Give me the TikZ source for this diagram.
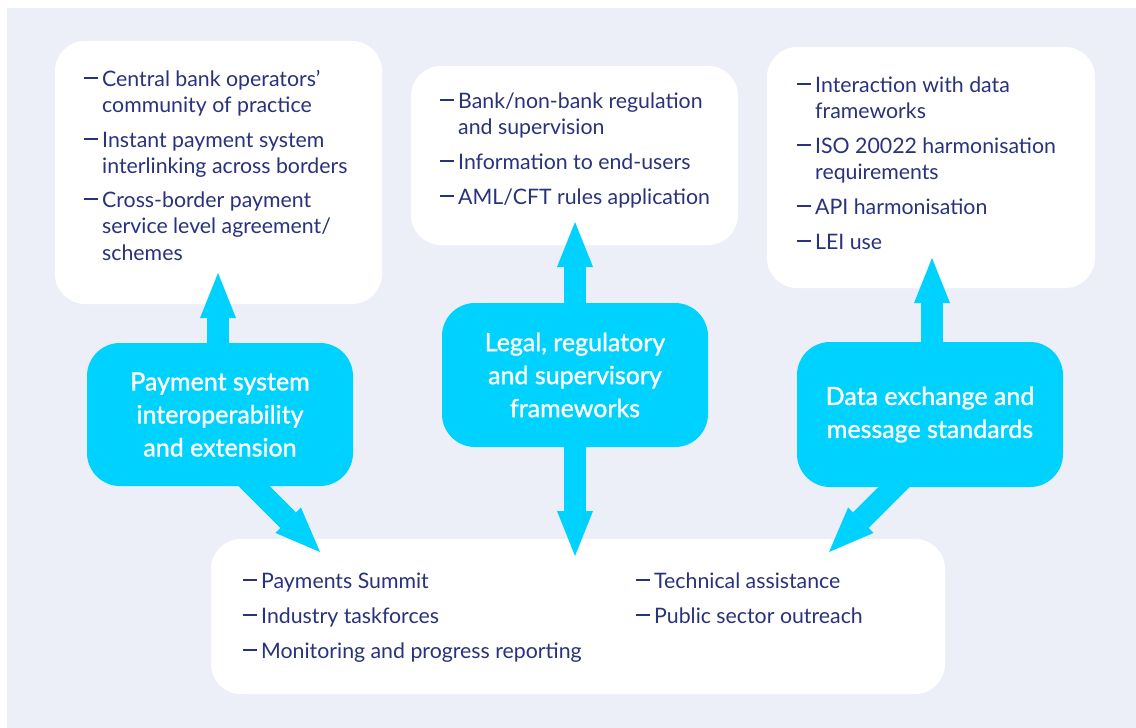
\documentclass[tikz,border=0pt]{standalone}
\usepackage{fontspec}
\setmainfont{Lato}
\newfontfamily\cyfont[FakeBold=1.2]{Lato}
\usetikzlibrary{arrows.meta}
\definecolor{bgc}{RGB}{236,239,247}
\definecolor{cy}{RGB}{0,210,255}
\definecolor{navy}{RGB}{40,50,125}
\newcommand\dsh{\rule[7.5pt]{13.5pt}{1.6pt}\hspace{4.5pt}}
\pgfdeclarelayer{back}
\pgfdeclarelayer{mid}
\pgfsetlayers{back,mid,main}
\begin{document}
\begin{tikzpicture}[x=1pt,y=-1pt,
 wbox/.style={fill=white, rounded corners=30pt, inner sep=0pt},
 cbox/.style={fill=cy, rounded corners=33pt, inner sep=0pt, text=white, font=\cyfont\fontsize{25}{33}\selectfont, align=center, minimum width=266pt},
 itm/.style={anchor=base west, inner sep=0pt, text=navy, font=\fontsize{21.3}{26}\selectfont},
 arr/.style={draw=cy, line width=22pt, -{Triangle[length=45pt,width=36pt,line width=0pt]}}]
\useasboundingbox (0,0) rectangle (1136,728);
\begin{pgfonlayer}{back}
\fill[bgc] (7,8) rectangle (1136,728);
\node[wbox, minimum width=327pt, minimum height=263pt] (A) at (218.5,172.5) {};
\node[wbox, minimum width=327pt, minimum height=179pt] (B) at (574.5,155.5) {};
\node[wbox, minimum width=328pt, minimum height=241pt] (C) at (931,167.5) {};
\node[wbox, minimum width=734pt, minimum height=155pt] (D) at (578,616.5) {};
\end{pgfonlayer}

\node[cbox, minimum height=143pt] (P1) at (220,414.5) {Payment system\\interoperability\\and extension};
\node[cbox, minimum height=144pt] (P2) at (575,375) {Legal, regulatory\\and supervisory\\frameworks};
\node[cbox, minimum height=145pt] (P3) at (930,414.5) {Data exchange and\\message standards};

\coordinate (t1) at (218,273);
\coordinate (t2u) at (575,222);
\coordinate (t2d) at (575,556);
\coordinate (t3) at (932,258);
\coordinate (s1) at (231,463);
\coordinate (d1) at (320,552);
\coordinate (s3) at (918,463);
\coordinate (d3) at (829,552);
\begin{pgfonlayer}{mid}
\draw[arr] (t1 |- P1.center) -- (t1);
\draw[arr] (t2u |- P2.center) -- (t2u);
\draw[arr] (t2d |- P2.center) -- (t2d);
\draw[arr] (t3 |- P3.center) -- (t3);
\draw[arr] (s1) -- (d1);
\draw[arr] (s3) -- (d3);
\end{pgfonlayer}

\node[itm] (a1) at (84,86) {\dsh Central bank operators’};
\node[itm] (a2) at (102,112) {community of practice};
\node[itm] (a3) at (84,147) {\dsh Instant payment system};
\node[itm] (a4) at (102,173) {interlinking across borders};
\node[itm] (a5) at (84,207) {\dsh Cross-border payment};
\node[itm] (a6) at (102,233) {service level agreement/};
\node[itm] (a7) at (102,260) {schemes};

\node[itm] (b1) at (440,108) {\dsh Bank/non-bank regulation};
\node[itm] (b2) at (458,134) {and supervision};
\node[itm] (b3) at (440,169) {\dsh Information to end-users};
\node[itm] (b4) at (440,204) {\dsh AML/CFT rules application};

\node[itm] (c1) at (797,92) {\dsh Interaction with data};
\node[itm] (c2) at (815,118) {frameworks};
\node[itm] (c3) at (797,153) {\dsh ISO 20022 harmonisation};
\node[itm] (c4) at (815,179) {requirements};
\node[itm] (c5) at (797,214) {\dsh API harmonisation};
\node[itm] (c6) at (797,249) {\dsh LEI use};

\node[itm] (d1t) at (243,588) {\dsh Payments Summit};
\node[itm] (d2t) at (243,623) {\dsh Industry taskforces};
\node[itm] (d3t) at (243,658) {\dsh Monitoring and progress reporting};
\node[itm] (d4t) at (636,588) {\dsh Technical assistance};
\node[itm] (d5t) at (636,623) {\dsh Public sector outreach};
\end{tikzpicture}
\end{document}
